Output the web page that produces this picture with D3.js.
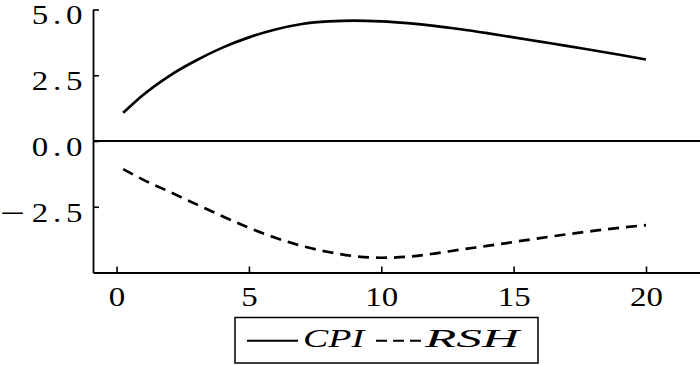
<!DOCTYPE html>
<html>
<head>
<meta charset="utf-8">
<script src="https://cdn.jsdelivr.net/npm/d3@7"></script>
<style>
  html, body { margin: 0; padding: 0; background: #fff; }
  svg { display: block; }
</style>
</head>
<body>
<svg id="chart" width="700" height="365"></svg>
<script>
// ---- data ----
const periods = [0.25, 1, 2, 3, 4, 5, 6, 7, 8, 9, 10, 11, 12, 13, 14, 15, 16, 17, 18, 19, 20];
const cpiValues = [1.07, 1.75, 2.48, 3.06, 3.55, 3.94, 4.24, 4.45, 4.55, 4.58, 4.55, 4.48, 4.38, 4.25, 4.10, 3.94, 3.78, 3.62, 3.45, 3.28, 3.10];
const rshValues = [-1.07, -1.47, -1.93, -2.40, -2.86, -3.30, -3.68, -3.99, -4.22, -4.38, -4.44, -4.40, -4.28, -4.13, -3.99, -3.84, -3.69, -3.55, -3.42, -3.30, -3.20];
const seriesNames = ["CPI", "RSH"];
const xTicks = [0, 5, 10, 15, 20];
const yTicks = [-2.5, 0, 2.5, 5];

// ---- layout ----
const FONT = "'Liberation Serif', 'Times New Roman', Times, serif";
const svg = d3.select("#chart");
const mLeft = 93, mRight = 700, mTop = 9.5, mBottom = 272.5;

const x = d3.scaleLinear().domain([-0.89, 22.04]).range([mLeft, mRight]);
const y = d3.scaleLinear().domain([-5, 5]).range([mBottom, mTop]);

// y axis
const fmt = d3.format(".1f");
const yAxis = d3.axisLeft(y)
  .tickValues(yTicks)
  .tickSizeInner(-6)
  .tickSizeOuter(0)
  .tickFormat(fmt);
const gy = svg.append("g").attr("transform", `translate(${mLeft},0)`).call(yAxis);
gy.attr("font-family", FONT);
gy.select(".domain").attr("stroke", "#000").attr("stroke-width", 1.8);
gy.selectAll(".tick line").attr("stroke", "#000").attr("stroke-width", 1.6);
gy.selectAll(".tick text")
  .attr("x", 0).attr("y", 0).attr("dy", null)
  .attr("fill", "#000")
  .style("font-family", FONT)
  .style("font-size", "27px")
  .attr("transform", "translate(0,14.3) scale(1.22,1)")
  .each(function(d) {
    const t = d3.select(this);
    const s = fmt(Math.abs(d));
    t.text(null);
    if (d < 0) {
      t.attr("text-anchor", "start");
      t.append("tspan").attr("x", -76.2)
        .attr("textLength", 20.5).attr("lengthAdjust", "spacingAndGlyphs")
        .text("\u2212");
      t.append("tspan").attr("x", -50.2)
        .attr("textLength", 41.5).attr("lengthAdjust", "spacing")
        .text(s);
    } else {
      t.attr("text-anchor", "start");
      t.append("tspan").attr("x", -50.2)
        .attr("textLength", 41.5).attr("lengthAdjust", "spacing")
        .text(s);
    }
  });

// x axis
const xAxis = d3.axisBottom(x)
  .tickValues(xTicks)
  .tickSizeInner(-6)
  .tickSizeOuter(0)
  .tickFormat(d3.format("d"));
const gx = svg.append("g").attr("transform", `translate(0,${mBottom})`).call(xAxis);
gx.attr("font-family", FONT);
gx.select(".domain").attr("stroke", "#000").attr("stroke-width", 1.8);
gx.selectAll(".tick line").attr("stroke", "#000").attr("stroke-width", 1.6);
gx.selectAll(".tick text")
  .attr("x", 0).attr("y", 0).attr("dy", null)
  .attr("text-anchor", "middle")
  .attr("fill", "#000")
  .style("font-family", FONT)
  .style("font-size", "27px")
  .attr("transform", "translate(0,33.5) scale(1.22,1)");

// zero line
svg.append("line")
  .attr("x1", mLeft).attr("x2", mRight)
  .attr("y1", y(0)).attr("y2", y(0))
  .attr("stroke", "#000").attr("stroke-width", 1.8);

// lines
const line = d3.line()
  .x((d, i) => x(periods[i]))
  .y(d => y(d))
  .curve(d3.curveMonotoneX);

svg.append("path")
  .datum(cpiValues)
  .attr("d", line)
  .attr("fill", "none")
  .attr("stroke", "#000")
  .attr("stroke-width", 2.7);

svg.append("path")
  .datum(rshValues)
  .attr("d", line)
  .attr("fill", "none")
  .attr("stroke", "#000")
  .attr("stroke-width", 2.7)
  .attr("stroke-dasharray", "11,7");

// legend
const lg = svg.append("g").attr("font-family", FONT);
lg.append("rect")
  .attr("x", 235).attr("y", 317.5)
  .attr("width", 303).attr("height", 45.5)
  .attr("fill", "#fff").attr("stroke", "#000").attr("stroke-width", 1.5);

lg.append("line")
  .attr("x1", 247).attr("x2", 298).attr("y1", 340.7).attr("y2", 340.7)
  .attr("stroke", "#000").attr("stroke-width", 2);
lg.append("text")
  .attr("x", 303).attr("y", 347)
  .attr("textLength", 61).attr("lengthAdjust", "spacingAndGlyphs")
  .style("font-family", FONT)
  .style("font-size", "25px").style("font-style", "italic")
  .text(seriesNames[0]);

lg.append("line")
  .attr("x1", 376).attr("x2", 423).attr("y1", 340.7).attr("y2", 340.7)
  .attr("stroke", "#000").attr("stroke-width", 2)
  .attr("stroke-dasharray", "11,6");
lg.append("text")
  .attr("x", 425).attr("y", 347)
  .attr("textLength", 94).attr("lengthAdjust", "spacingAndGlyphs")
  .style("font-family", FONT)
  .style("font-size", "25px").style("font-style", "italic")
  .text(seriesNames[1]);
</script>
</body>
</html>
